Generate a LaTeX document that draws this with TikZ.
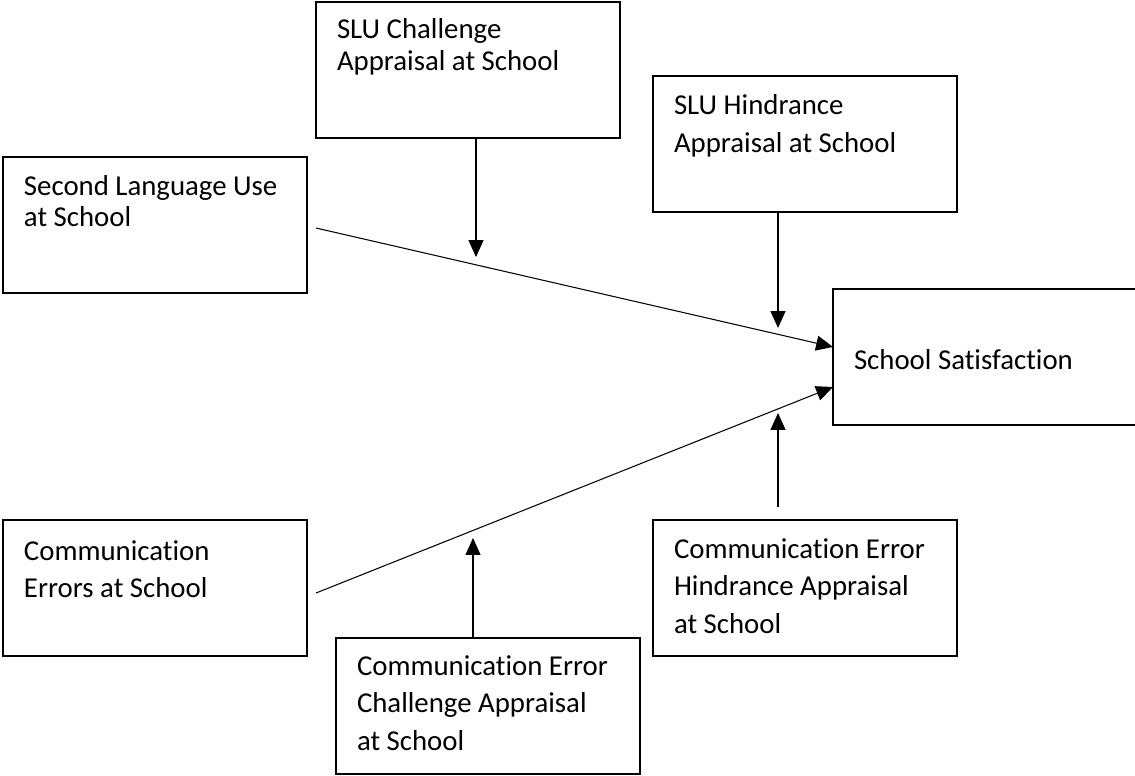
\documentclass[tikz,border=0pt]{standalone}
\usepackage{fontspec}
\setmainfont{Carlito}[Ligatures=NoCommon]
\usetikzlibrary{arrows.meta,positioning,calc}

\tikzset{
  box/.style={draw,line width=0.8pt,anchor=north west,inner xsep=0.42cm,inner ysep=0pt,outer sep=0pt},
  link/.style={->,line width=0.6pt}
}
% text of a box: offset of first baseline, line spacing, lines
\newcommand{\boxtext}[3]{\parbox[c][2.72cm][t]{5.24cm}{\raggedright\fontsize{16.4pt}{#2}\selectfont\rule{0pt}{#1}#3}}

\begin{document}
\begin{tikzpicture}[x=0.02cm,y=-0.02cm,>={Triangle[length=9.6pt,width=8.5pt]}]
 \useasboundingbox (0,0) rectangle (1135,775);
 % predictors and outcome
 \node[box] (use) at (3,157) {\boxtext{0.76cm}{18.1pt}{Second Language Use\\at School}};
 \node[box] (err) at (3,520) {\boxtext{0.80cm}{21.5pt}{Communication\\Errors at School}};
 \node[box] (sat) at (833,289) {\boxtext{1.62cm}{21.5pt}{School Satisfaction}};
 % moderators
 \node[box] (chal) at (316,2) {\boxtext{0.74cm}{18.1pt}{SLU Challenge\\Appraisal at School}};
 \node[box] (hind) at (653,76) {\boxtext{0.78cm}{21.5pt}{SLU Hindrance\\Appraisal at School}};
 \node[box] (echal) at (336,638) {\boxtext{0.74cm}{21.5pt}{Communication Error\\Challenge Appraisal\\at School}};
 \node[box] (ehind) at (653,520) {\boxtext{0.76cm}{21.5pt}{Communication Error\\Hindrance Appraisal\\at School}};
 % main paths
 \coordinate (usestart) at (316,228); \coordinate (errstart) at (316,593);
 \draw[link] (usestart) -- ([yshift=0.2cm]sat.west);
 \draw[link] (errstart) -- ([yshift=-0.6cm]sat.west);
 % moderating paths
 \coordinate (m1) at (476,257); \coordinate (m2) at (778,328);
 \coordinate (m3) at (473,538); \coordinate (m4) at (778,413);
 \draw[link] (chal.south -| m1) -- (m1);
 \draw[link] (hind.south -| m2) -- (m2);
 \draw[link] (echal.north -| m3) -- (m3);
 \draw[link] ($(ehind.north -| m4)+(0,-13)$) -- (m4);
\end{tikzpicture}
\end{document}
